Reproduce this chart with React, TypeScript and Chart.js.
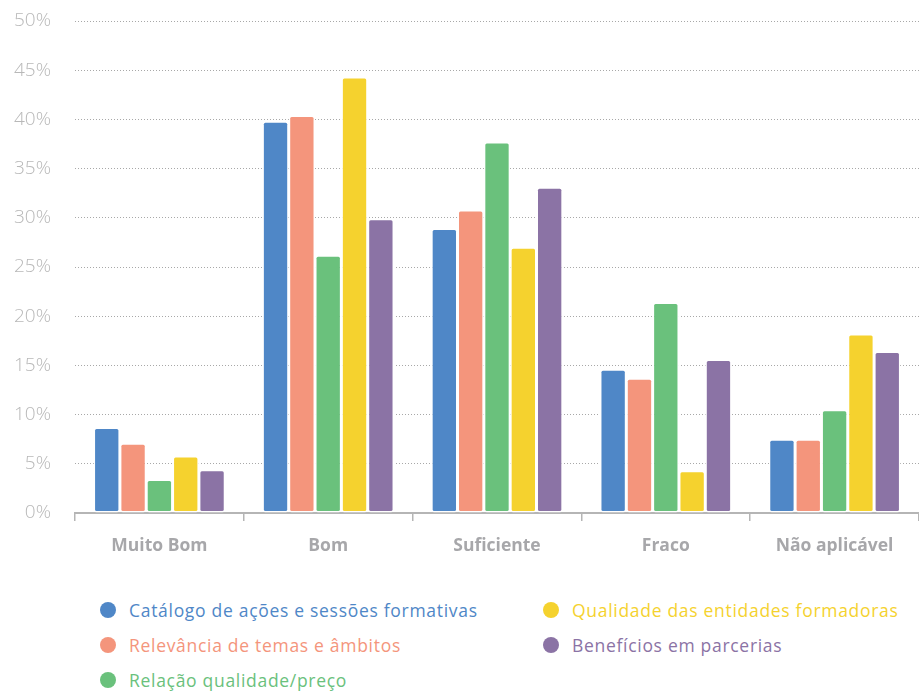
import React, { useEffect, useRef } from "react";
import { Chart, registerables } from "chart.js";

Chart.register(...registerables);

const categories = ["Muito Bom", "Bom", "Suficiente", "Fraco", "Não aplicável"];

const catalogo = [8.7, 39.8, 28.9, 14.6, 7.5];
const relevancia = [7.1, 40.4, 30.8, 13.7, 7.5];
const relacaoPreco = [3.4, 26.2, 37.7, 21.4, 10.5];
const qualidadeEntidades = [5.8, 44.3, 27.0, 4.3, 18.2];
const beneficios = [4.4, 29.9, 33.1, 15.6, 16.4];

const seriesNames = [
  "Catálogo de ações e sessões formativas",
  "Relevância de temas e âmbitos",
  "Relação qualidade/preço",
  "Qualidade das entidades formadoras",
  "Benefícios em parcerias",
];
const seriesColors = ["#4F87C7", "#F4957C", "#6AC17C", "#F5D22E", "#8B73A5"];
const seriesValues = [catalogo, relevancia, relacaoPreco, qualidadeEntidades, beneficios];

const FONT = "'Open Sans', Lato, sans-serif";

function Legend() {
  const items = seriesNames.map((name, i) => ({ name, color: seriesColors[i] }));
  const pos = [
    { left: 100, top: 610 },
    { left: 100, top: 645 },
    { left: 100, top: 680 },
    { left: 543, top: 610 },
    { left: 543, top: 645 },
  ];
  return (
    <>
      {items.map((it, i) => (
        <div
          key={it.name}
          style={{
            position: "absolute",
            left: pos[i].left,
            top: pos[i].top - 12,
            height: 24,
            display: "flex",
            alignItems: "center",
            whiteSpace: "nowrap",
          }}
        >
          <span
            style={{
              width: 16,
              height: 16,
              borderRadius: "50%",
              background: it.color,
              display: "inline-block",
              marginRight: 13,
            }}
          />
          <span
            style={{
              color: it.color,
              fontFamily: FONT,
              fontSize: 17.5,
              fontWeight: 400,
              letterSpacing: 0.7,
            }}
          >
            {it.name}
          </span>
        </div>
      ))}
    </>
  );
}

export default function App() {
  const canvasRef = useRef<HTMLCanvasElement | null>(null);

  useEffect(() => {
    if (!canvasRef.current) return;
    const chart = new Chart(canvasRef.current, {
      type: "bar",
      data: {
        labels: categories,
        datasets: seriesValues.map((vals, i) => ({
          label: seriesNames[i],
          data: vals,
          backgroundColor: seriesColors[i],
          borderColor: "#ffffff",
          borderWidth: 1.5,
          borderRadius: 3,
          borderSkipped: false,
          barPercentage: 1,
          categoryPercentage: 0.78,
        })),
      },
      options: {
        animation: false,
        responsive: false,
        maintainAspectRatio: false,
        layout: { padding: { top: 21, right: 0, bottom: 0, left: 0 } },
        plugins: {
          legend: { display: false },
          tooltip: { enabled: false },
        },
        scales: {
          x: {
            afterFit: (scale: any) => {
              scale.height = 62;
            },
            grid: {
              display: true,
              drawOnChartArea: false,
              drawTicks: true,
              tickLength: 8,
              offset: true,
              color: "#b5b5b5",
              lineWidth: 1.5,
            },
            border: { display: true, color: "#b5b5b5", width: 2 },
            ticks: {
              color: "#a7a7aa",
              padding: 15,
              font: { family: FONT, size: 17.5, weight: "bold" },
            },
          },
          y: {
            min: 0,
            max: 50,
            afterFit: (scale: any) => {
              // fixed axis width; label overflow only needs half a line
              scale.width = 75;
              scale.paddingTop = 11;
              scale.paddingBottom = 11;
            },
            grid: {
              color: "#a8a8a8",
              lineWidth: 1,
              drawTicks: false,
            },
            border: { display: false, dash: [1, 2] },
            ticks: {
              stepSize: 5,
              padding: 24,
              color: "#b8b8b8",
              font: { family: FONT, size: 19, weight: 300 },
              callback: (v: any) => v + "%",
            },
          },
        },
      },
    });
    return () => chart.destroy();
  }, []);

  return (
    <div
      style={{
        position: "fixed",
        left: 0,
        top: 0,
        width: 919,
        height: 692,
        background: "#ffffff",
        overflow: "hidden",
      }}
    >
      <canvas ref={canvasRef} width={919} height={575} style={{ display: "block" }} />
      <Legend />
    </div>
  );
}
